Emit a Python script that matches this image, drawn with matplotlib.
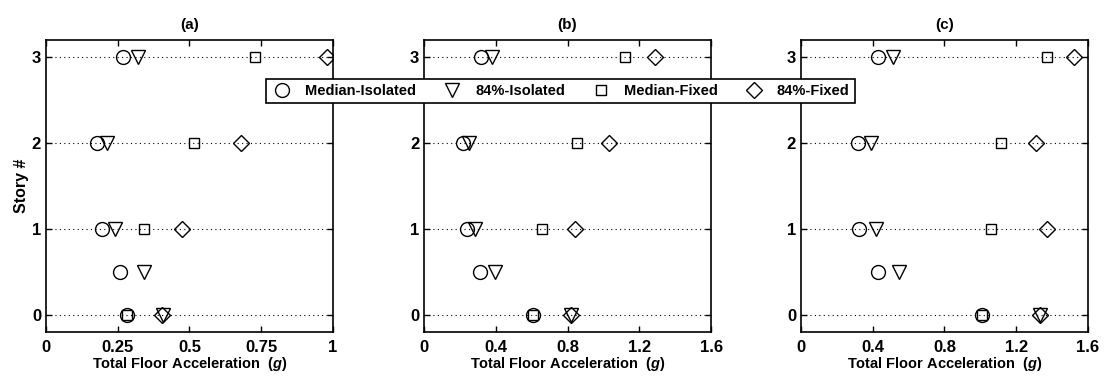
import matplotlib.pyplot as plt

plt.rcParams['font.family'] = ['Liberation Sans', 'DejaVu Sans']
plt.rcParams['font.weight'] = 'bold'
plt.rcParams['mathtext.fontset'] = 'custom'
plt.rcParams['mathtext.bfit'] = 'Liberation Sans:italic:bold'
plt.rcParams['mathtext.it'] = 'Liberation Sans:italic:bold'
plt.rcParams['mathtext.rm'] = 'Liberation Sans:bold'

# story levels (0.5 = isolation level, only for isolated building)
story_iso = [0, 0.5, 1, 2, 3]
story_fix = [0, 1, 2, 3]

# panel (a)
a_med_iso = [0.281, 0.258, 0.194, 0.177, 0.27]
a_84_iso = [0.408, 0.342, 0.24, 0.213, 0.32]
a_med_fix = [0.283, 0.341, 0.516, 0.73]
a_84_fix = [0.405, 0.473, 0.68, 0.98]

# panel (b)
b_med_iso = [0.61, 0.312, 0.238, 0.216, 0.32]
b_84_iso = [0.82, 0.396, 0.283, 0.25, 0.377]
b_med_fix = [0.61, 0.66, 0.85, 1.12]
b_84_fix = [0.82, 0.84, 1.03, 1.29]

# panel (c)
c_med_iso = [1.01, 0.43, 0.325, 0.316, 0.43]
c_84_iso = [1.33, 0.547, 0.418, 0.393, 0.514]
c_med_fix = [1.01, 1.06, 1.117, 1.37]
c_84_fix = [1.33, 1.37, 1.31, 1.52]

panels = [
    ('(a)', a_med_iso, a_84_iso, a_med_fix, a_84_fix, 1.0, [0, 0.25, 0.5, 0.75, 1], ['0', '0.25', '0.5', '0.75', '1']),
    ('(b)', b_med_iso, b_84_iso, b_med_fix, b_84_fix, 1.6, [0, 0.4, 0.8, 1.2, 1.6], ['0', '0.4', '0.8', '1.2', '1.6']),
    ('(c)', c_med_iso, c_84_iso, c_med_fix, c_84_fix, 1.6, [0, 0.4, 0.8, 1.2, 1.6], ['0', '0.4', '0.8', '1.2', '1.6']),
]

fig = plt.figure(figsize=(11.1, 3.81), dpi=100)
lefts = [0.0414, 0.382, 0.7216]

mk = dict(linestyle='none', markerfacecolor='none', markeredgecolor='black', markeredgewidth=1.0)
handles = None
for left, (title, mi, pi, mf, pf, xmax, xt, xtl) in zip(lefts, panels):
    ax = fig.add_axes([left, 0.1286, 0.2586, 0.766])
    for s in [0, 1, 2, 3]:
        ax.axhline(s, color='black', linestyle=(0, (1, 3)), linewidth=0.8, zorder=0)
    h1, = ax.plot(mi, story_iso, marker='o', markersize=10, **mk)
    h2, = ax.plot(pi, story_iso, marker='v', markersize=10, **mk)
    h3, = ax.plot(mf, story_fix, marker='s', markersize=7.5, **mk)
    h4, = ax.plot(pf, story_fix, marker='D', markersize=8, **mk)
    handles = [h1, h2, h3, h4]
    ax.set_xlim(0, xmax)
    ax.set_ylim(-0.2, 3.2)
    ax.set_xticks(xt)
    ax.set_xticklabels(xtl)
    ax.set_yticks([0, 1, 2, 3])
    ax.tick_params(direction='in', top=True, right=True, labelsize=12, length=4, width=1)
    ax.tick_params(axis='x', pad=6)
    for sp in ax.spines.values():
        sp.set_linewidth(1.2)
    ax.set_title(title, fontsize=11, fontweight='bold', pad=8)
    ax.set_xlabel('Total Floor Acceleration  $\\mathit{(g)}$', fontsize=10.5, fontweight='bold', labelpad=0)
    if title == '(a)':
        ax.set_ylabel('Story #', fontsize=11.5, fontweight='bold', labelpad=2)

leg = fig.legend(handles, ['Median-Isolated', '84%-Isolated', 'Median-Fixed', '84%-Fixed'],
                 loc='center', bbox_to_anchor=(0.505, 0.761), ncol=4, fontsize=10.5,
                 frameon=True, fancybox=False, framealpha=1, edgecolor='black',
                 handlelength=1.5, columnspacing=1.75, borderpad=0.35)
leg.get_frame().set_linewidth(1.2)

fig.savefig('out.png', dpi=100)
